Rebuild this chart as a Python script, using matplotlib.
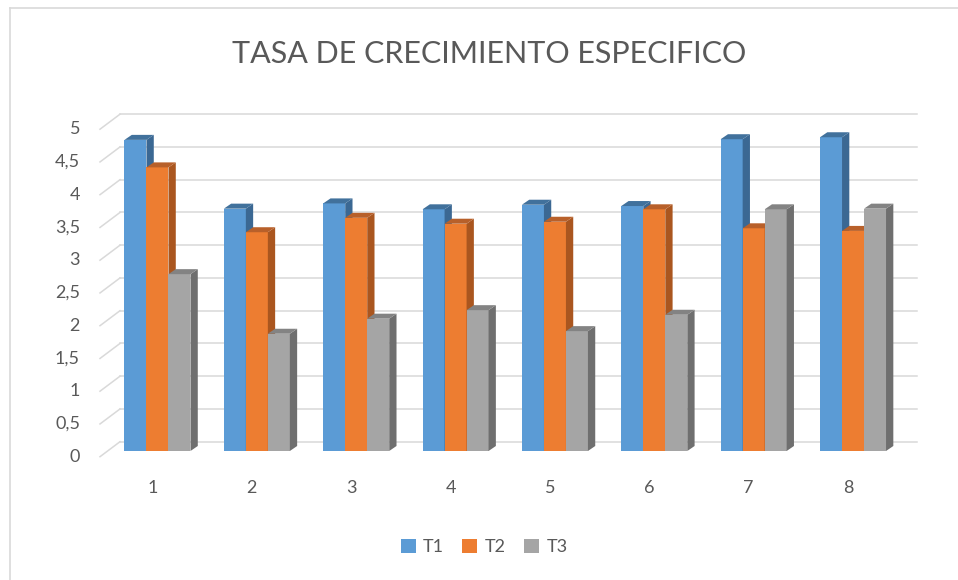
import matplotlib
matplotlib.use("Agg")
import matplotlib.pyplot as plt
from matplotlib.patches import Patch, Polygon
from matplotlib.lines import Line2D

# ---------------- data ----------------
categories = ["1", "2", "3", "4", "5", "6", "7", "8"]
series_names = ["T1", "T2", "T3"]
t1 = [4.75, 3.70, 3.78, 3.69, 3.76, 3.74, 4.76, 4.79]
t2 = [4.33, 3.34, 3.56, 3.47, 3.50, 3.69, 3.40, 3.36]
t3 = [2.70, 1.79, 2.02, 2.15, 1.83, 2.08, 3.69, 3.70]
yticks = [0, 0.5, 1, 1.5, 2, 2.5, 3, 3.5, 4, 4.5, 5]
ytick_labels = ["0", "0,5", "1", "1,5", "2", "2,5", "3", "3,5", "4", "4,5", "5"]
title = "TASA DE CRECIMIENTO ESPECIFICO"

# ---------------- style ----------------
front_cols = ["#5B9BD5", "#ED7D31", "#A5A5A5"]
side_cols = ["#3B6893", "#AA561F", "#6F6F6F"]
top_cols = ["#41719C", "#B8602A", "#838383"]
text_col = "#595959"
grid_col = "#D9D9D9"
FONT = ["Lato", "DejaVu Sans"]

W, H = 958, 580
DPI = 100
fig = plt.figure(figsize=(W / DPI, H / DPI), dpi=DPI)
fig.patch.set_facecolor("white")

def fx(px):
    return px / W

def fy(py):
    return 1 - py / H

# plot area (front plane of the bars)
X0, X1 = 107.8, 902.7     # pixels for x = 0.5 and 8.5
YB, YT = 451.0, 123.5     # pixels for y = 0 and 5
PXX = (X1 - X0) / 8.0
PXY = (YB - YT) / 5.0

ax = fig.add_axes([fx(X0), fy(YB), (X1 - X0) / W, (YB - YT) / H])
ax.set_xlim(0.5, 8.5)
ax.set_ylim(0, 5)
ax.axis("off")

def dx(px):
    return px / PXX

def dy(py):
    return py / PXY

def xd(px):
    return 0.5 + (px - X0) / PXX

# back wall gridlines
back_up = dy(9.3)
front_down = dy(5.7)
for v in yticks:
    ax.add_line(Line2D([xd(120), xd(917)], [v + back_up, v + back_up],
                       color=grid_col, lw=1.1, zorder=1, clip_on=False))
    # left wall tick
    ax.add_line(Line2D([xd(100), xd(120)], [v - front_down, v + back_up],
                       color=grid_col, lw=1.1, zorder=1, clip_on=False))

for v, lab in zip(yticks, ytick_labels):
    ax.text(xd(80), v - front_down, lab, ha="right", va="center",
            fontsize=13, color=text_col, family=FONT, clip_on=False)

# bars with pseudo-3D faces
w = dx(22)
ddx, ddy = dx(7.3), dy(5.0)
values = [t1, t2, t3]
for s, vals in enumerate(values):
    for i, v in enumerate(vals):
        xc = (i + 1) + (s - 1) * w
        ax.bar(xc, v, width=w, color=front_cols[s], zorder=3 + s,
               linewidth=0, clip_on=False)
        xr = xc + w / 2
        xl = xc - w / 2
        side = Polygon([(xr, 0), (xr + ddx, ddy), (xr + ddx, v + ddy), (xr, v)],
                       closed=True, facecolor=side_cols[s], edgecolor="none",
                       zorder=3 + s, clip_on=False)
        top = Polygon([(xl, v), (xr, v), (xr + ddx, v + ddy), (xl + ddx, v + ddy)],
                      closed=True, facecolor=top_cols[s], edgecolor="none",
                      zorder=3 + s, clip_on=False)
        ax.add_patch(side)
        ax.add_patch(top)

# category labels
for i, c in enumerate(categories):
    ax.text((i + 1) - dx(5), -dy(488 - YB), c, ha="center", va="center",
            fontsize=13, color=text_col, family=FONT, clip_on=False)

# title
fig.text(fx(489), fy(54), title, ha="center", va="center", fontsize=22,
         color=text_col, family=FONT)

# legend
handles = [Patch(facecolor=c, edgecolor="none", label=n)
           for c, n in zip(front_cols, series_names)]
leg = fig.legend(handles=handles, loc="center", bbox_to_anchor=(fx(484), fy(547)),
                 ncol=3, frameon=False, handlelength=0.85, handleheight=0.85,
                 handletextpad=0.4, columnspacing=1.0,
                 prop={"family": FONT, "size": 13})
for t in leg.get_texts():
    t.set_color(text_col)

# chart border (top and left edges visible)
fig.add_artist(Line2D([fx(10), 1.0], [fy(8), fy(8)], color=grid_col, lw=1.2))
fig.add_artist(Line2D([fx(10), fx(10)], [fy(8), 0.0], color=grid_col, lw=1.2))

fig.savefig("out.png", dpi=DPI, facecolor="white")
